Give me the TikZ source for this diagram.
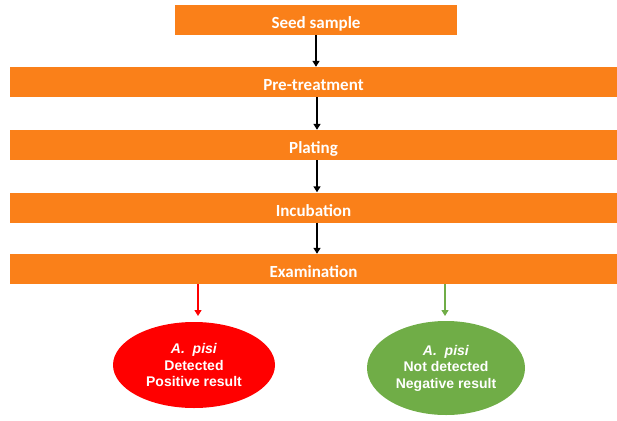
\documentclass[tikz,border=0pt]{standalone}
\usepackage{fontspec}
\setmainfont{Liberation Sans}
\newfontfamily\barfont{Carlito}
\usetikzlibrary{shapes.geometric,arrows.meta}
\definecolor{barorange}{RGB}{250,128,25}
\definecolor{resred}{RGB}{255,0,0}
\definecolor{resgreen}{RGB}{112,173,71}
\tikzset{
  stepbar/.style={fill=barorange, draw=none, minimum height=30pt, inner sep=0pt, text height=17pt, text depth=0pt, text=white, font=\barfont\bfseries\fontsize{17}{19}\selectfont},
  flow/.style={draw=black, line width=1.6pt, -{Triangle[length=6pt,width=7pt]}},
  result/.style={ellipse, draw=none, inner sep=0pt, text=white, align=center, font=\bfseries\fontsize{14}{16.5}\selectfont},
}
\begin{document}
\begin{tikzpicture}[x=1pt,y=-1pt]
\useasboundingbox (0,0) rectangle (617,420);
\node[stepbar, minimum width=282pt] (seed) at (316,20) {Seed sample};
\node[stepbar, minimum width=607pt] (pre) at (313.5,82) {Pre-treatment};
\node[stepbar, minimum width=607pt] (plat) at (313.5,145) {Plating};
\node[stepbar, minimum width=607pt] (incu) at (313.5,207.5) {Incubation};
\node[stepbar, minimum width=607pt] (exam) at (313.5,269) {Examination};
\node[result, fill=resred, minimum width=162pt, minimum height=86pt] (pos) at (194,365) {\textit{A.\ \ pisi}\\Detected\\Positive result};
\node[result, fill=resgreen, minimum width=158pt, minimum height=94pt] (neg) at (446,368) {\textit{A.\ \ pisi}\\Not detected\\Negative result};
\draw[flow] (seed.south -| 316,0) -- (pre.north -| 316,0);
\draw[flow] (pre.south -| 317,0) -- (plat.north -| 317,0);
\draw[flow] (plat.south -| 317,0) -- (incu.north -| 317,0);
\draw[flow] (incu.south -| 317,0) -- (exam.north -| 317,0);
\draw[flow, draw=resred, line width=1.3pt] (exam.south -| 198,0) -- (198,316);
\draw[flow, draw=resgreen, line width=1.3pt] (exam.south -| 445,0) -- (445,316);
\end{tikzpicture}
\end{document}
